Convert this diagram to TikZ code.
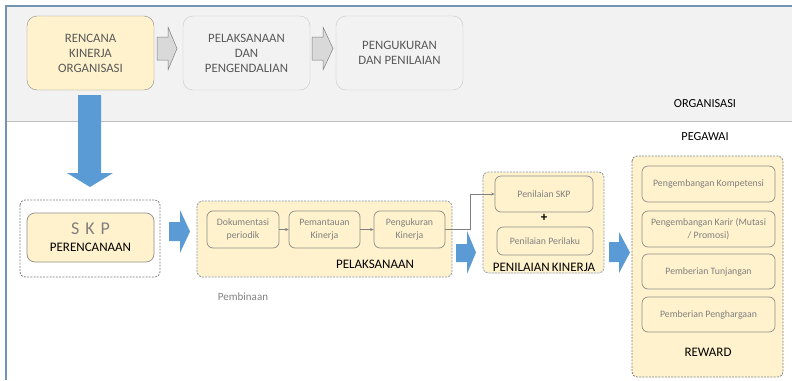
\documentclass[tikz,border=0pt]{standalone}
\usepackage{fontspec}
\setmainfont{Carlito}
\usetikzlibrary{arrows.meta}

\definecolor{bandgray}{HTML}{F2F2F2}
\definecolor{framebl}{HTML}{7393B3}
\definecolor{lightyel}{HTML}{FFF2CC}
\definecolor{txtgray}{HTML}{595959}
\definecolor{softgray}{HTML}{808080}
\definecolor{edgegray}{HTML}{8C8C8C}
\definecolor{paleedge}{HTML}{C8C8C8}
\definecolor{dashbl}{HTML}{8497B0}
\definecolor{blockbl}{HTML}{5B9BD5}
\definecolor{arrowgray}{HTML}{D9D9D9}

\tikzset{
  topbox/.style={draw=#1, rounded corners=10pt, minimum width=127pt, minimum height=74pt,
    inner sep=0pt, align=center, text=txtgray, font=\fontsize{12.8}{15}\selectfont},
  groupbox/.style={draw=#1, dashed, dash pattern=on 2pt off 1.2pt, fill=lightyel,
    rounded corners=5pt, line width=0.8pt},
  itembox/.style={draw=edgegray, fill=lightyel, rounded corners=6pt, inner sep=0pt,
    line width=0.7pt, align=center, text=softgray, font=\fontsize{9.8}{12.5}\selectfont},
  caption/.style={inner sep=0pt, font=\fontsize{13}{15}\selectfont, text=black},
  flow/.style={draw=softgray, line width=0.6pt, -{Stealth[length=3.5pt,width=3pt]}},
  grayblock/.style={fill=arrowgray, draw=softgray, line width=0.5pt},
  blueblock/.style={fill=blockbl}
}

\begin{document}
\begin{tikzpicture}[x=1pt,y=-1pt]
\useasboundingbox (0,0) rectangle (792,380);

% organisation band and frame
\fill[bandgray] (6,6) rectangle (792,121);
\draw[black!25, line width=0.8pt] (6,121) -- (792,121);
\draw[framebl, line width=1.4pt] (6,380) -- (6,6) -- (792,6);

% organisation level
\node[topbox=edgegray, fill=lightyel] (rko) at (90.5,53) {RENCANA\\KINERJA\\ORGANISASI};
\node[topbox=paleedge] (pdp) at (246.5,53) {PELAKSANAAN\\DAN\\PENGENDALIAN};
\node[topbox=paleedge] (pdn) at (399.5,53) {PENGUKURAN\\DAN PENILAIAN};

\draw[grayblock] (157,37) -- (168,37) -- (168,27) -- (177,48.5) -- (168,70) -- (168,60) -- (157,60) -- cycle;
\draw[grayblock] (312,37) -- (323,37) -- (323,27) -- (333,48.5) -- (323,70) -- (323,60) -- (312,60) -- cycle;

\node[inner sep=0pt, font=\fontsize{12.3}{14}\selectfont] (org) at (705,104) {ORGANISASI};
\node[inner sep=0pt, font=\fontsize{12.3}{14}\selectfont] (peg) at (705,137) {PEGAWAI};

% from organisation plan down to the SKP
\fill[blueblock] (78,95) -- (101,95) -- (101,173) -- (113,173) -- (90,187) -- (67,173) -- (78,173) -- cycle;

% planning
\draw[groupbox=softgray, fill=none] (20,200) rectangle (160,277);
\node[itembox, minimum width=127pt, minimum height=49pt, rounded corners=8pt, text=black,
      font=\fontsize{13}{15}\selectfont] (skp) at (90.5,237.5)
      {{\fontsize{18}{20}\selectfont\color{softgray}S\,\,K\,\,P}\\[2pt]PERENCANAAN};

\fill[blueblock] (169,222) -- (180,222) -- (180,210) -- (190,231.5) -- (180,253) -- (180,241) -- (169,241) -- cycle;

% implementation
\draw[groupbox=dashbl] (197,201) rectangle (452,277);
\node[itembox, minimum width=72pt, minimum height=37pt] (dok) at (243,229.5) {Dokumentasi\\periodik};
\node[itembox, minimum width=71pt, minimum height=37pt] (pem) at (324.5,229.5) {Pemantauan\\Kinerja};
\node[itembox, minimum width=71pt, minimum height=37pt] (ukr) at (409.5,229.5) {Pengukuran\\Kinerja};
\node[caption] (lpel) at (375,264) {PELAKSANAAN};
\node[inner sep=0pt, text=softgray, font=\fontsize{11}{13}\selectfont] (pemb) at (243,297) {Pembinaan};

\draw[flow] (dok) -- (pem);
\draw[flow] (pem) -- (ukr);

\fill[blueblock] (456,244) -- (467,244) -- (467,231) -- (476,252.5) -- (467,274) -- (467,262) -- (456,262) -- cycle;

% performance appraisal
\draw[groupbox=dashbl] (483,172) rectangle (604,273);
\node[itembox, minimum width=98pt, minimum height=36pt] (pskp) at (544,194) {Penilaian SKP};
\node[inner sep=0pt, font=\bfseries\fontsize{13}{14}\selectfont] (plus) at (544,218) {+};
\node[itembox, minimum width=96pt, minimum height=28pt] (pper) at (545,241) {Penilaian Perilaku};
\node[caption] (lpk) at (544,267) {PENILAIAN\,KINERJA};

\draw[flow] (ukr.east) -- ++(25,0) |- (pskp.west);

\fill[blueblock] (609,242) -- (619,242) -- (619,232) -- (630,252.5) -- (619,273) -- (619,262) -- (609,262) -- cycle;

% reward
\draw[groupbox=softgray] (632,156) rectangle (783,377);
\node[itembox, minimum width=133pt, minimum height=36pt] (r1) at (708.5,184) {Pengembangan Kompetensi};
\node[itembox, minimum width=133pt, minimum height=36pt] (r2) at (708.5,229) {Pengembangan Karir (Mutasi\\/ Promosi)};
\node[itembox, minimum width=133pt, minimum height=35pt] (r3) at (708.5,271.5) {Pemberian Tunjangan};
\node[itembox, minimum width=133pt, minimum height=35pt] (r4) at (708.5,314.5) {Pemberian Penghargaan};
\node[caption] (lrw) at (708,352) {REWARD};
\end{tikzpicture}
\end{document}
